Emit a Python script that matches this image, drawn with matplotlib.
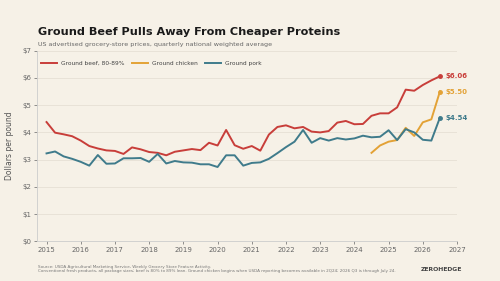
import numpy as np
import matplotlib
matplotlib.use("Agg")
from matplotlib import pyplot as plt

# quarterly prices, 2015 Q1 .. 2026 Q3 (dollars per pound)
beef = [4.38, 3.99, 3.93, 3.86, 3.70, 3.50, 3.41, 3.34, 3.32, 3.21, 3.45, 3.38,
        3.28, 3.25, 3.16, 3.29, 3.34, 3.39, 3.35, 3.62, 3.52, 4.09, 3.53, 3.40,
        3.50, 3.33, 3.92, 4.20, 4.26, 4.15, 4.20, 4.03, 4.00, 4.05, 4.36, 4.42,
        4.30, 4.31, 4.61, 4.70, 4.70, 4.92, 5.57, 5.53, 5.74, 5.91, 6.06]
pork = [3.23, 3.30, 3.12, 3.03, 2.92, 2.78, 3.17, 2.85, 2.86, 3.05, 3.05, 3.06,
        2.92, 3.21, 2.86, 2.95, 2.90, 2.89, 2.83, 2.83, 2.73, 3.16, 3.16, 2.78,
        2.88, 2.90, 3.03, 3.24, 3.46, 3.66, 4.09, 3.62, 3.79, 3.70, 3.79, 3.74,
        3.78, 3.88, 3.82, 3.84, 4.08, 3.72, 4.12, 4.00, 3.73, 3.70, 4.54]
chicken = [3.25, 3.52, 3.66, 3.72, 4.17, 3.87, 4.37, 4.48, 5.50]
chicken_start = 38  # index of first chicken quarter in the beef/pork series

quarters = 2015 + np.arange(len(beef)) / 4.0
chicken_q = quarters[chicken_start:]

BG = "#f6f1e7"
RED = "#c83e3a"
GOLD = "#e3a236"
TEAL = "#3f7b8b"

fig = plt.figure(figsize=(5, 2.81), dpi=100, facecolor=BG)
ax = fig.add_axes([0.0746, 0.141, 0.8394, 0.6786], facecolor=BG)

ax.plot(quarters, beef, color=RED, lw=1.4, label="Ground beef, 80-89%")
ax.plot(chicken_q, chicken, color=GOLD, lw=1.4, label="Ground chicken")
ax.plot(quarters, pork, color=TEAL, lw=1.4, label="Ground pork")

# end markers + value labels
for xs, ys, c in [(quarters, beef, RED), (chicken_q, chicken, GOLD), (quarters, pork, TEAL)]:
    ax.plot(xs[-1], ys[-1], "o", color=c, ms=2.5)
    ax.annotate("${:.2f}".format(ys[-1]), (xs[-1], ys[-1]), xytext=(4, 0),
                textcoords="offset points", va="center", ha="left",
                fontsize=5, color=c, fontweight="bold")

ax.set_xlim(2014.73, 2027)
ax.set_ylim(0, 7)
ax.set_xticks(range(2015, 2028))
ax.set_yticks(range(0, 8))
ax.set_yticklabels(["${}".format(v) for v in range(0, 8)])
ax.tick_params(labelsize=5, colors="#666666", length=2, width=0.5, pad=2)
ax.grid(axis="y", color="#e6e0d4", lw=0.6)
ax.set_axisbelow(True)
for s in ["top", "right"]:
    ax.spines[s].set_visible(False)
for s in ["left", "bottom"]:
    ax.spines[s].set_color("#cccccc")
    ax.spines[s].set_linewidth(0.6)
ax.set_ylabel("Dollars per pound", fontsize=5.5, color="#555555", labelpad=6)

leg = ax.legend(loc="center left", ncol=3, frameon=False, fontsize=4.2,
                handlelength=2.7, handletextpad=0.6, columnspacing=1.4,
                bbox_to_anchor=(0.0, 0.935), borderaxespad=0.3)
for t in leg.get_texts():
    t.set_color("#444444")

fig.text(0.076, 0.875, "Ground Beef Pulls Away From Cheaper Proteins",
         fontsize=8.1, fontweight="bold", color="#1a1a1a")
fig.text(0.076, 0.838, "US advertised grocery-store prices, quarterly national weighted average",
         fontsize=4.6, color="#666666")
fig.text(0.076, 0.048, "Source: USDA Agricultural Marketing Service, Weekly Grocery Store Feature Activity.",
         fontsize=3.0, color="#777777")
fig.text(0.076, 0.031, "Conventional fresh products, all package sizes; beef is 80% to 89% lean. "
         "Ground chicken begins when USDA reporting becomes available in 2Q24; 2026 Q3 is through July 24.",
         fontsize=3.0, color="#777777")
fig.text(0.924, 0.034, "ZEROHEDGE", fontsize=4.4, fontweight="bold",
         color="#444444", ha="right")

fig.savefig("out.png", dpi=100, facecolor=BG)
